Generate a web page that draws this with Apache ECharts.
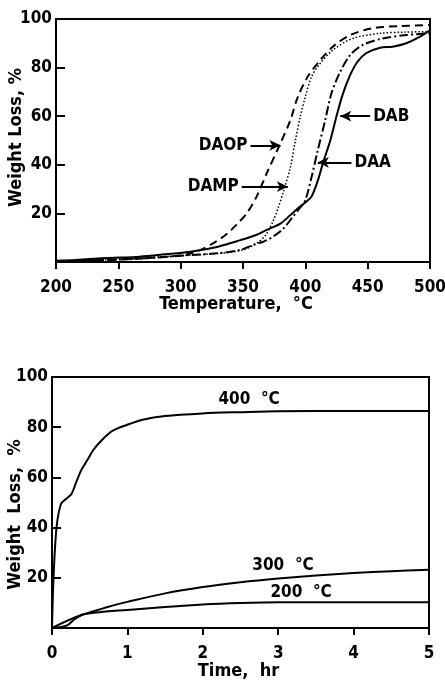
<!DOCTYPE html>
<html>
<head>
<meta charset="utf-8">
<script src="https://cdn.jsdelivr.net/npm/echarts@6/dist/echarts.min.js"></script>
<style>
  html, body { margin: 0; padding: 0; background: #fff; }
  #chart { width: 445px; height: 682px; }
</style>
</head>
<body>
<div id="chart"></div>
<script>
// top panel: weight loss vs temperature, [°C, %]
const dab = [[200,0.5],[215,0.8],[240,1.6],[267,2.2],[290,3.3],[308,4.2],[330,6.3],[348,9],[360,11],[369,13.2],[380,15.8],[388,19.3],[395,22.5],[400,24.5],[405,27],[410,33.5],[414,40.5],[420,50],[425,60],[430,69],[436,77],[442,82.5],[449,86],[460,88.2],[470,88.6],[481,90],[492,92.7],[500,95.5]]
const daa = [[200,0.3],[250,1.0],[280,1.8],[308,2.9],[330,3.6],[348,5],[358,7],[367,8.5],[374,10.4],[382,13.5],[390,18.6],[395,21.8],[400,25.5],[405,35],[410,46],[416,58.5],[421,69.5],[428,78.3],[436,85.2],[446,89.3],[462,92],[481,93.4],[500,94.1]]
const damp = [[200,0.3],[250,1.1],[300,2.6],[330,3.5],[350,5],[361,7.7],[368,11],[374,16.6],[378,22],[382,28.3],[388,39],[392,50],[396,60],[400,68],[405,76.3],[412,81.8],[422,87.2],[438,92],[460,94.1],[480,94.6],[500,94.8]]
const daop = [[200,0.3],[250,1.0],[290,2.2],[305,3.2],[316,5],[327,8],[337,11.5],[345,15.5],[353,20],[361,27],[369,36.5],[380,48.8],[388,58.4],[394,68],[402,76.3],[412,83.1],[422,88.6],[436,93.4],[454,96.2],[476,97.1],[500,97.5]]

// arrow callouts for the top panel: label, tail, head (data units)
const topCallouts = [
  { name: 'DAOP', from: [356, 48], to: [380, 48] },
  { name: 'DAMP', from: [349, 31], to: [386, 31] },
  { name: 'DAB', from: [452, 60], to: [428, 60] },
  { name: 'DAA', from: [437, 41], to: [410, 41] },
]

// bottom panel: isothermal weight loss vs time, [hr, %]
const iso400 = [[0,0],[0.02,20],[0.06,40],[0.12,49.5],[0.19,51.5],[0.26,53.5],[0.32,58],[0.39,63],[0.47,67],[0.55,71],[0.65,74.5],[0.8,78.5],[1.0,81],[1.2,83],[1.5,84.5],[2,85.5],[2.5,86],[3,86.4],[4,86.5],[5,86.5]]
const iso300 = [[0,0],[0.1,0.3],[0.2,1],[0.3,3.5],[0.4,5.2],[0.5,6.2],[0.75,8.5],[1.0,10.4],[1.5,13.8],[2,16.3],[2.5,18.2],[3,19.7],[3.5,20.9],[4,21.9],[4.5,22.6],[5,23.2]]
const iso200 = [[0,0],[0.37,5],[0.6,6.2],[1,7.2],[1.5,8.4],[2,9.4],[2.5,10],[3,10.3],[4,10.3],[5,10.3]]
const isoLabels = [
  { name: '400  °C', at: [2.2, 91] },
  { name: '300  °C', at: [2.65, 24.7] },
  { name: '200  °C', at: [2.89, 14.3] },
]

const font = "'DejaVu Sans Condensed', 'Liberation Sans Narrow', sans-serif"
const ink = '#000'

function yAxis(gridIndex, name, nameGap, pad) {
  return {
    type: 'value', gridIndex, min: 0, max: 100, interval: 20,
    name, nameLocation: 'middle', nameGap, nameMoveOverlap: false,
    nameTextStyle: { color: ink, fontFamily: font, fontWeight: 'bold', fontSize: 18, padding: pad },
    axisLine: { show: true, lineStyle: { color: ink, width: 2 } },
    axisTick: { show: true, inside: true, length: 9, lineStyle: { color: ink, width: 2 } },
    splitLine: { show: false },
    axisLabel: { color: ink, fontFamily: font, fontWeight: 'bold', fontSize: 17, margin: 4,
      formatter: v => (v === 0 ? '' : v) },
  }
}

function xAxis(gridIndex, min, max, interval, name, nameGap, pad) {
  return {
    type: 'value', gridIndex, min, max, interval, name, nameLocation: 'middle', nameGap,
    nameMoveOverlap: false,
    nameTextStyle: { color: ink, fontFamily: font, fontWeight: 'bold', fontSize: 18, padding: pad },
    axisLine: { show: true, onZero: false, lineStyle: { color: ink, width: 2 } },
    axisTick: { show: true, length: 7, lineStyle: { color: ink, width: 2 } },
    splitLine: { show: false },
    axisLabel: { color: ink, fontFamily: font, fontWeight: 'bold', fontSize: 17, margin: 17 },
  }
}

function curve(name, data, dash, width, extra) {
  return Object.assign({
    name, type: 'line', xAxisIndex: 0, yAxisIndex: 0, data, smooth: 0.3,
    showSymbol: false, animation: false, silent: true,
    lineStyle: { color: ink, width, type: dash },
  }, extra || {})
}

function callout(c) {
  return {
    symbol: ['none', 'arrow'], symbolSize: [8, 11], silent: true, animation: false,
    lineStyle: { color: ink, width: 2, type: 'solid' },
    label: { show: true, position: 'start', distance: 3, formatter: c.name, color: ink,
      fontFamily: font, fontWeight: 'bold', fontSize: 17 },
    data: [[{ coord: c.from }, { coord: c.to }]],
  }
}

const series = [
  curve('DAB', dab, 'solid', 2, { markLine: callout(topCallouts[2]) }),
  curve('DAA', daa, [9, 3, 2, 3], 2, { markLine: callout(topCallouts[3]) }),
  curve('DAMP', damp, [1.5, 2], 1.5, { markLine: callout(topCallouts[1]) }),
  curve('DAOP', daop, [8, 5], 2, { markLine: callout(topCallouts[0]) }),
]

;[iso400, iso300, iso200].forEach((d, i) => {
  const lab = isoLabels[i]
  series.push({
    name: lab.name, type: 'line', xAxisIndex: 1, yAxisIndex: 1, data: d, smooth: 0.3,
    showSymbol: false, animation: false, silent: true,
    lineStyle: { color: ink, width: 2 },
    markPoint: {
      symbol: 'circle', symbolSize: 1, silent: true, animation: false,
      itemStyle: { color: 'rgba(0,0,0,0)' },
      label: { show: true, position: 'right', distance: 0, formatter: lab.name, color: ink,
        fontFamily: font, fontWeight: 'bold', fontSize: 17 },
      data: [{ coord: lab.at }],
    },
  })
})

const chart = echarts.init(document.getElementById('chart'), null, { renderer: 'canvas' })
chart.setOption({
  backgroundColor: '#fff',
  animation: false,
  grid: [
    { left: 56, right: 15, top: 19, height: 243, outerBoundsMode: 'none', show: true, borderColor: ink, borderWidth: 2, backgroundColor: 'transparent' },
    { left: 52, right: 16, top: 377, height: 251, outerBoundsMode: 'none', show: true, borderColor: ink, borderWidth: 2, backgroundColor: 'transparent' },
  ],
  xAxis: [
    xAxis(0, 200, 500, 50, 'Temperature,  °C', 33, [0, 14, 0, 0]),
    xAxis(1, 0, 5, 1, 'Time,  hr', 34, [0, 4, 0, 0]),
  ],
  yAxis: [
    yAxis(0, 'Weight Loss, %', 31, [0, 0, 0, 6]),
    yAxis(1, 'Weight  Loss,  %', 28, [0, 24, 0, 0]),
  ],
  series,
})
</script>
</body>
</html>
